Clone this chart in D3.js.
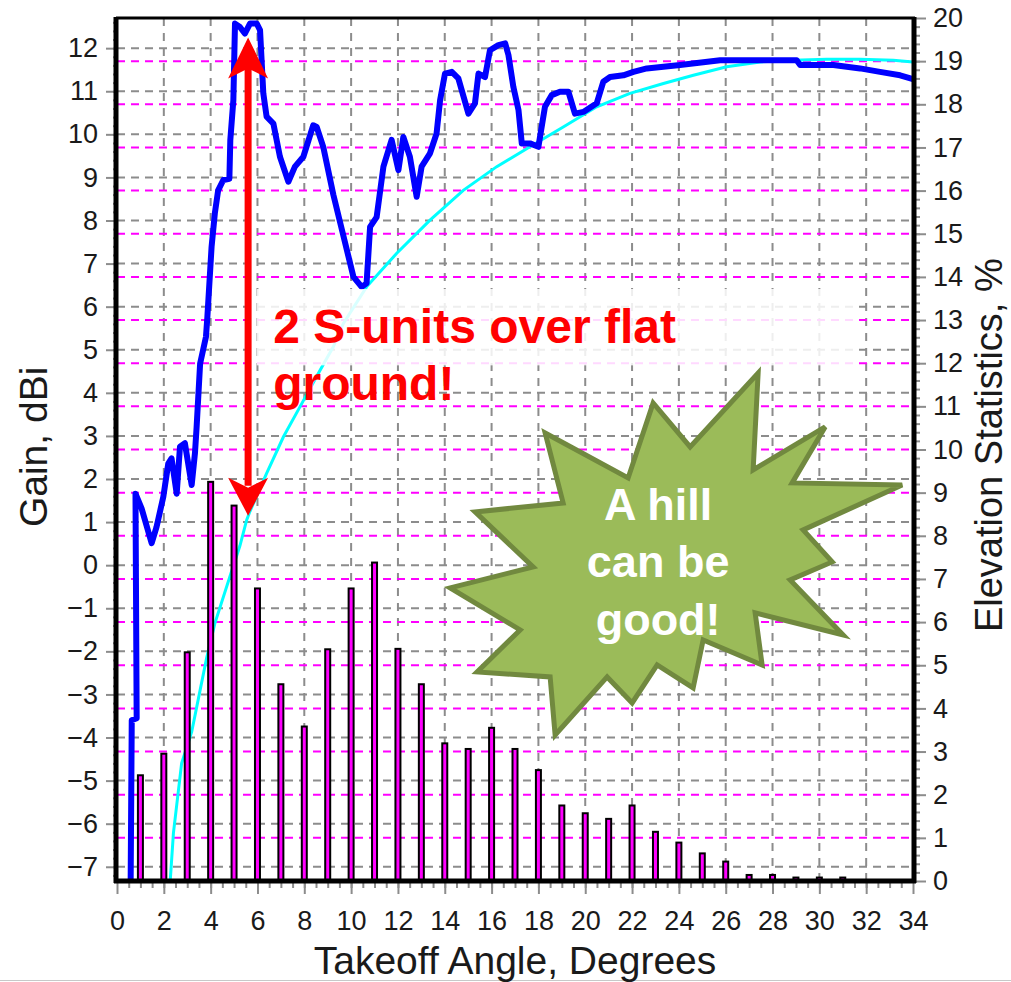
<!DOCTYPE html>
<html>
<head>
<meta charset="utf-8">
<script src="https://cdn.jsdelivr.net/npm/d3@7/dist/d3.min.js"></script>
<style>
    body { margin: 0; background: #fff; }
    svg { display: block; }
</style>
</head>
<body>
<div id="js-svg-container"></div>
<script>
// elevation statistics (bars), percent of time per takeoff angle
let barAngles = [1, 2, 3, 4, 5, 6, 7, 8, 9, 10, 11, 12, 13, 14, 15, 16, 17, 18, 19, 20,
    21, 22, 23, 24, 25, 26, 27, 28, 29, 30, 31];
let barPercents = [2.45, 2.95, 5.3, 9.25, 8.7, 6.78, 4.56, 3.58, 5.37, 6.78, 7.38, 5.38, 4.56, 3.19, 3.06,
    3.55, 3.06, 2.57, 1.75, 1.57, 1.44, 1.75, 1.14, 0.89, 0.64, 0.45, 0.14, 0.14, 0.08, 0.08, 0.08];

// gain over the hill terrain (blue)
let hillAngles = [0.58, 0.63, 0.84, 0.79, 1.05, 1.48, 1.69, 1.98, 2.19, 2.33, 2.55, 2.69, 2.9, 3.19, 3.33,
    3.4, 3.55, 3.8, 3.86, 4.04, 4.18, 4.32, 4.54, 4.8, 4.84, 4.97, 5.04, 5.25, 5.46, 5.68, 5.97, 6.11,
    6.25, 6.39, 6.68, 6.96, 7.32, 7.6, 7.96, 8.38, 8.53, 8.81, 9.24, 9.6, 10.1, 10.45, 10.66, 10.81,
    11.09, 11.38, 11.73, 12.02, 12.23, 12.51, 12.8, 13.01, 13.37, 13.65, 13.8, 14.01, 14.3, 14.58,
    15.01, 15.29, 15.44, 15.72, 15.93, 16.29, 16.58, 16.72, 16.93, 17.15, 17.29, 17.64, 18.0, 18.28,
    18.57, 18.92, 19.28, 19.56, 19.92, 20.49, 20.77, 21.06, 21.63, 22.06, 22.63, 23.34, 24.05, 25.76,
    27.89, 29.03, 29.18, 30.6, 31.74, 32.59, 33.45, 34.0];
let hillGains = [-7.6, -3.6, -3.55, 1.66, 1.32, 0.51, 0.89, 1.59, 2.36, 2.48, 1.66, 2.75, 2.83, 1.86, 2.6,
    3.2, 4.68, 5.3, 5.76, 7.39, 8.17, 8.7, 8.94, 8.97, 9.87, 10.79, 12.57, 12.49, 12.34, 12.57, 12.57, 12.42,
    10.95, 10.41, 10.25, 9.48, 8.9, 9.25, 9.48, 10.21, 10.17, 9.71, 8.6, 7.8, 6.69, 6.46, 6.54, 7.85,
    8.08, 9.25, 9.87, 9.17, 9.94, 9.48, 8.55, 9.25, 9.56, 10.02, 10.79, 11.41, 11.45, 11.3,
    10.48, 10.72, 11.41, 11.33, 11.95, 12.07, 12.11, 11.84, 11.1, 10.56, 9.79, 9.79, 9.71, 10.64,
    10.91, 10.99, 10.99, 10.48, 10.52, 10.72, 11.22, 11.33, 11.37, 11.45, 11.53, 11.57, 11.61, 11.72,
    11.72, 11.72, 11.61, 11.61, 11.53, 11.45, 11.37, 11.28];

// gain over flat ground (cyan)
let flatAngles = [2.24, 2.41, 2.76, 3.19, 3.55, 3.83, 4.18, 4.82, 5.25, 5.54, 5.68, 6.39, 7.11, 7.82,
    8.68, 9.24, 9.67, 10.66, 11.95, 13.37, 14.79, 16.22, 17.64, 19.06, 20.49, 21.91, 23.34, 24.62,
    26.04, 27.47, 28.89, 30.31, 31.74, 33.16, 34.0];
let flatGains = [-7.6, -6.22, -4.6, -3.87, -2.9, -2.15, -1.35, -0.27, 0.45, 1.05, 1.25, 2.13, 2.98, 3.68,
    4.53, 5.07, 5.61, 6.46, 7.24, 8.01, 8.7, 9.25, 9.71, 10.17, 10.64, 10.95, 11.18, 11.37,
    11.57, 11.68, 11.72, 11.74, 11.74, 11.72, 11.68];

let angleTicks = [0, 2, 4, 6, 8, 10, 12, 14, 16, 18, 20, 22, 24, 26, 28, 30, 32, 34];
let gainTicks = [-7, -6, -5, -4, -3, -2, -1, 0, 1, 2, 3, 4, 5, 6, 7, 8, 9, 10, 11, 12];
let percentTicks = [0, 1, 2, 3, 4, 5, 6, 7, 8, 9, 10, 11, 12, 13, 14, 15, 16, 17, 18, 19, 20];

let flatNote = ['2 S-units over flat', 'ground!'];
let hillNote = ['A hill', 'can be', 'good!'];

document.addEventListener('DOMContentLoaded', function() {

    let width = 1011;
    let height = 982;
    let plot = { left: 117, right: 913, top: 18, bottom: 881 };
    let font = '"Liberation Sans", Arial, sans-serif';

    let x = d3.scaleLinear()
        .domain([0, 34])
        .range([plot.left, plot.right]);

    let yGain = d3.scaleLinear()
        .domain([-7.33, 12.7])
        .range([plot.bottom, plot.top]);

    let yPct = d3.scaleLinear()
        .domain([0, 20])
        .range([plot.bottom, plot.top]);

    let svg = d3.select('#js-svg-container')
        .append('svg')
        .attr('width', width)
        .attr('height', height)
        .style('font-family', font);

    svg.append('rect')
        .attr('width', width)
        .attr('height', height)
        .attr('fill', '#fff');

    svg.append('line')
        .attr('x1', 0).attr('x2', width)
        .attr('y1', height - 1.5).attr('y2', height - 1.5)
        .attr('stroke', '#c8c8c8');

    svg.append('clipPath')
        .attr('id', 'plot-clip')
        .append('rect')
        .attr('x', plot.left)
        .attr('y', plot.top)
        .attr('width', plot.right - plot.left)
        .attr('height', plot.bottom - plot.top);

    // grid
    let grid = svg.append('g');

    grid.selectAll('line.vgrid')
        .data(angleTicks.filter(d => d > 0 && d < 34))
        .enter()
        .append('line')
        .attr('x1', d => x(d)).attr('x2', d => x(d))
        .attr('y1', plot.top).attr('y2', plot.bottom)
        .attr('stroke', '#8c8c8c')
        .attr('stroke-width', 2)
        .attr('stroke-dasharray', '8,7');

    grid.selectAll('line.hgrid')
        .data(gainTicks)
        .enter()
        .append('line')
        .attr('x1', plot.left).attr('x2', plot.right)
        .attr('y1', d => yGain(d)).attr('y2', d => yGain(d))
        .attr('stroke', '#8c8c8c')
        .attr('stroke-width', 2)
        .attr('stroke-dasharray', '8,6');

    grid.selectAll('line.pgrid')
        .data(percentTicks.filter(d => d > 0 && d < 20))
        .enter()
        .append('line')
        .attr('x1', plot.left).attr('x2', plot.right)
        .attr('y1', d => yPct(d)).attr('y2', d => yPct(d))
        .attr('stroke', '#ff00ff')
        .attr('stroke-width', 2)
        .attr('stroke-dasharray', '8,6');

    let area = svg.append('g').attr('clip-path', 'url(#plot-clip)');

    let gainLine = d3.line()
        .x(d => x(d[0]))
        .y(d => yGain(d[1]));

    area.append('path')
        .datum(d3.zip(flatAngles, flatGains))
        .attr('d', gainLine)
        .attr('fill', 'none')
        .attr('stroke', '#00ffff')
        .attr('stroke-width', 3);

    area.selectAll('rect.bar')
        .data(d3.zip(barAngles, barPercents))
        .enter()
        .append('rect')
        .attr('x', d => x(d[0]) - 2.5)
        .attr('y', d => yPct(d[1]))
        .attr('width', 5)
        .attr('height', d => yPct(0) - yPct(d[1]))
        .attr('fill', '#ff00ff')
        .attr('stroke', '#000')
        .attr('stroke-width', 2);

    area.append('path')
        .datum(d3.zip(hillAngles, hillGains))
        .attr('d', gainLine)
        .attr('fill', 'none')
        .attr('stroke', '#0000ff')
        .attr('stroke-width', 6)
        .attr('stroke-linejoin', 'round');

    // axes
    function styleAxis(g) {
        g.attr('font-family', font);
        g.select('.domain').remove();
        g.selectAll('.tick line').attr('stroke', '#8c8c8c').attr('stroke-width', 2);
        g.selectAll('.tick text').attr('font-size', 27).attr('fill', '#1a1a1a');
    }

    svg.append('g')
        .attr('transform', 'translate(' + plot.left + ',0)')
        .call(d3.axisLeft(yGain).tickValues(d3.range(-7.2, 12.7, 0.2)).tickSize(4).tickFormat(''))
        .call(styleAxis);

    svg.append('g')
        .attr('transform', 'translate(' + plot.left + ',0)')
        .call(d3.axisLeft(yGain).tickValues(gainTicks).tickSize(11).tickPadding(8))
        .call(styleAxis);

    svg.append('g')
        .attr('transform', 'translate(' + plot.right + ',0)')
        .call(d3.axisRight(yPct).tickValues(d3.range(0.2, 20, 0.2)).tickSize(7).tickFormat(''))
        .call(styleAxis);

    svg.append('g')
        .attr('transform', 'translate(' + plot.right + ',0)')
        .call(d3.axisRight(yPct).tickValues(percentTicks).tickSize(13).tickPadding(7))
        .call(styleAxis);

    svg.append('g')
        .attr('transform', 'translate(0,' + plot.bottom + ')')
        .call(d3.axisBottom(x).tickValues(d3.range(0.5, 34, 0.5)).tickSize(7).tickFormat(''))
        .call(styleAxis);

    svg.append('g')
        .attr('transform', 'translate(0,' + plot.bottom + ')')
        .call(d3.axisBottom(x).tickValues(angleTicks).tickSize(13).tickPadding(17))
        .call(styleAxis);

    // frame
    let frame = svg.append('g').attr('stroke', '#000');
    frame.append('line').attr('x1', plot.left - 1).attr('x2', plot.right + 2)
        .attr('y1', plot.top).attr('y2', plot.top).attr('stroke-width', 3);
    frame.append('line').attr('x1', plot.left - 3).attr('x2', plot.right + 3)
        .attr('y1', plot.bottom).attr('y2', plot.bottom).attr('stroke-width', 5);
    frame.append('line').attr('x1', plot.left - 1).attr('x2', plot.left - 1)
        .attr('y1', plot.top - 1).attr('y2', plot.bottom + 2).attr('stroke-width', 5);
    frame.append('line').attr('x1', plot.right + 1).attr('x2', plot.right + 1)
        .attr('y1', plot.top - 1).attr('y2', plot.bottom + 2).attr('stroke-width', 5);

    // axis titles
    svg.append('text')
        .attr('transform', 'translate(47,' + yPct(10.06) + ') rotate(-90)')
        .attr('text-anchor', 'middle')
        .attr('font-size', 39)
        .attr('fill', '#1a1a1a')
        .text('Gain, dBi');

    svg.append('text')
        .attr('transform', 'translate(1002,' + yPct(10.1) + ') rotate(-90)')
        .attr('text-anchor', 'middle')
        .attr('font-size', 38)
        .attr('fill', '#1a1a1a')
        .text('Elevation Statistics, %');

    svg.append('text')
        .attr('x', (plot.left + plot.right) / 2)
        .attr('y', 974)
        .attr('text-anchor', 'middle')
        .attr('font-size', 39)
        .attr('fill', '#1a1a1a')
        .text('Takeoff Angle, Degrees');

    // flat ground note
    svg.append('rect')
        .attr('x', x(5.97))
        .attr('y', yPct(13.72))
        .attr('width', x(31.5) - x(5.97))
        .attr('height', yPct(11.95) - yPct(13.72))
        .attr('fill', '#fff')
        .attr('opacity', 0.85);

    let arrowX = x(5.6);
    let arrowTop = yGain(12.25);
    let arrowBottom = yGain(1.15);

    svg.append('line')
        .attr('x1', arrowX).attr('x2', arrowX)
        .attr('y1', arrowTop + 30).attr('y2', arrowBottom - 30)
        .attr('stroke', '#ff0000')
        .attr('stroke-width', 7);

    svg.append('path')
        .attr('d', 'M' + arrowX + ',' + arrowTop +
            'L' + (arrowX + 20) + ',' + (arrowTop + 41) +
            'L' + arrowX + ',' + (arrowTop + 31) +
            'L' + (arrowX - 20) + ',' + (arrowTop + 41) + 'Z')
        .attr('fill', '#ff0000');

    svg.append('path')
        .attr('d', 'M' + arrowX + ',' + arrowBottom +
            'L' + (arrowX + 20) + ',' + (arrowBottom - 38) +
            'L' + arrowX + ',' + (arrowBottom - 28) +
            'L' + (arrowX - 20) + ',' + (arrowBottom - 38) + 'Z')
        .attr('fill', '#ff0000');

    svg.append('g')
        .selectAll('text')
        .data(flatNote)
        .enter()
        .append('text')
        .attr('x', x(6.67))
        .attr('y', (d, i) => yGain(5.15) + i * 57)
        .attr('font-size', 48)
        .attr('font-weight', 'bold')
        .attr('fill', '#ff0000')
        .text(d => d);

    // hill starburst
    let star = [[83, -172], [78, -75], [150, -118], [117, -62], [227, -60], [128, -15], [157, 17],
        [115, 35], [168, 90], [80, 68], [87, 120], [28, 95], [18, 143], [-18, 120], [-43, 158],
        [-68, 132], [-120, 190], [-125, 132], [-198, 127], [-155, 85], [-225, 43], [-142, 22],
        [-200, -33], [-112, -42], [-130, -112], [-47, -67], [-22, -142], [15, -98]];
    let cx = x(23.84);
    let cy = yGain(0.47);

    svg.append('polygon')
        .attr('points', star.map(p => (cx + p[0]) + ',' + (cy + p[1])).join(' '))
        .attr('fill', '#9bbb59')
        .attr('stroke', '#71893f')
        .attr('stroke-width', 5)
        .attr('stroke-linejoin', 'miter');

    svg.append('g')
        .selectAll('text')
        .data(hillNote)
        .enter()
        .append('text')
        .attr('x', cx - 17)
        .attr('y', (d, i) => cy - 25 + i * 57.5)
        .attr('text-anchor', 'middle')
        .attr('font-size', 45)
        .attr('font-weight', 'bold')
        .attr('fill', '#fff')
        .text(d => d);
});
</script>
</body>
</html>
